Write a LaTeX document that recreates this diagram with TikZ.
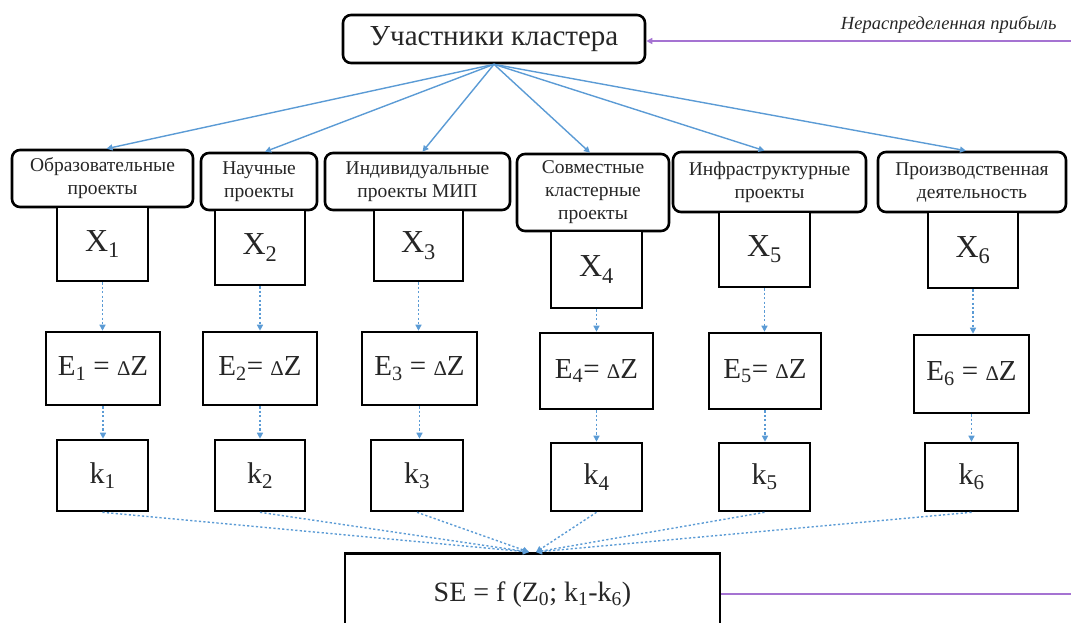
\documentclass[tikz,border=0pt]{standalone}
\usepackage{fontspec}
\setmainfont{Liberation Serif}
\usetikzlibrary{arrows.meta,calc}
\definecolor{lineblue}{HTML}{5B9BD5}
\definecolor{loopviolet}{RGB}{165,115,210}
\definecolor{txt}{HTML}{262626}
\newcommand{\dZ}{{\scalebox{0.72}{Δ}}Z}
\tikzset{
  rbox/.style={draw=black, line width=2.6pt, rounded corners=8pt, fill=white, align=center, text=txt, inner sep=2pt},
  sbox/.style={draw=black, line width=2.6pt, fill=white, align=center, text=txt, inner sep=2pt},
  cat/.style={rbox, font=\fontsize{19.5}{23}\selectfont},
  xbox/.style={sbox, font=\fontsize{32}{34}\selectfont},
  ebox/.style={sbox, font=\fontsize{29}{32}\selectfont},
  kbox/.style={sbox, font=\fontsize{30}{32}\selectfont},
  solidarrow/.style={draw=lineblue, line width=1.4pt, -{Triangle[length=6pt,width=6pt]}},
  dotarrow/.style={draw=lineblue, line width=1.4pt, dash pattern=on 2.2pt off 2.2pt, -{Triangle[length=6pt,width=6pt]}},
  loopline/.style={draw=loopviolet, line width=2pt}
}
\begin{document}
\begin{tikzpicture}[x=1pt,y=-1pt]
\useasboundingbox (0,0) rectangle (1071,622);
\clip (0,0) rectangle (1071,622);
% top node
\node[rbox, minimum width=302pt, minimum height=48pt, font=\fontsize{29}{30}\selectfont] (top) at (494,39) {Участники кластера};
\node[font=\itshape\fontsize{18.5}{20}\selectfont, text=txt, anchor=east] (lbl) at (1060,25) {Нераспределенная прибыль};
\coordinate (inR) at (1071,41);
\draw[loopline, -{Triangle[length=6pt,width=6pt]}] (inR) -- (top.east |- inR);
% category nodes
\node[cat, minimum width=181pt, minimum height=57pt] (c1) at (102.5,178.5) {Образовательные\\проекты};
\node[cat, minimum width=116pt, minimum height=57pt] (c2) at (259,181.5) {Научные\\проекты};
\node[cat, minimum width=185pt, minimum height=57pt] (c3) at (417.5,181.5) {Индивидуальные\\проекты МИП};
\node[cat, minimum width=152pt, minimum height=77pt] (c4) at (593,192.5) {Совместные\\кластерные\\проекты};
\node[cat, minimum width=193pt, minimum height=60pt] (c5) at (769.5,182) {Инфраструктурные\\проекты};
\node[cat, minimum width=188pt, minimum height=60pt] (c6) at (972,182) {Производственная\\деятельность};
% X nodes
\node[xbox, minimum width=91pt, minimum height=74pt] (x1) at (102.5,244) {X\textsubscript{1}};
\node[xbox, minimum width=90pt, minimum height=75pt] (x2) at (260,247.5) {X\textsubscript{2}};
\node[xbox, minimum width=89pt, minimum height=71pt] (x3) at (418.5,245.5) {X\textsubscript{3}};
\node[xbox, minimum width=91pt, minimum height=77pt] (x4) at (596.5,269.5) {X\textsubscript{4}};
\node[xbox, minimum width=91pt, minimum height=75pt] (x5) at (764.5,249.5) {X\textsubscript{5}};
\node[xbox, minimum width=90pt, minimum height=76pt] (x6) at (973,250) {X\textsubscript{6}};
% E nodes
\node[ebox, minimum width=114pt, minimum height=73pt] (e1) at (103,368.5) {E\textsubscript{1} = \dZ};
\node[ebox, minimum width=114pt, minimum height=73pt] (e2) at (260,368.5) {E\textsubscript{2}= \dZ};
\node[ebox, minimum width=115pt, minimum height=73pt] (e3) at (419.5,368.5) {E\textsubscript{3} = \dZ};
\node[ebox, minimum width=113pt, minimum height=76pt] (e4) at (596.5,371) {E\textsubscript{4}= \dZ};
\node[ebox, minimum width=112pt, minimum height=76pt] (e5) at (765,371) {E\textsubscript{5}= \dZ};
\node[ebox, minimum width=115pt, minimum height=78pt] (e6) at (971.5,374) {E\textsubscript{6} = \dZ};
% k nodes
\node[kbox, minimum width=91pt, minimum height=71pt] (k1) at (102.5,475.5) {k\textsubscript{1}};
\node[kbox, minimum width=90pt, minimum height=71pt] (k2) at (260,475.5) {k\textsubscript{2}};
\node[kbox, minimum width=92pt, minimum height=71pt] (k3) at (417,475.5) {k\textsubscript{3}};
\node[kbox, minimum width=91pt, minimum height=68pt] (k4) at (596.5,477) {k\textsubscript{4}};
\node[kbox, minimum width=91pt, minimum height=68pt] (k5) at (764.5,477) {k\textsubscript{5}};
\node[kbox, minimum width=93pt, minimum height=68pt] (k6) at (971.5,477) {k\textsubscript{6}};
% SE node
\node[sbox, minimum width=375pt, minimum height=82pt, anchor=north, font=\fontsize{28}{30}\selectfont] (se) at (532.5,552) {SE = f (Z\textsubscript{0}; k\textsubscript{1}-k\textsubscript{6})};
\coordinate (outR) at (1071,593);
\draw[loopline] (se.east) -- (outR |- se.east);
% arrows from top
\foreach \i/\dx in {1/4,2/6,3/5,4/-3,5/-5,6/-6}{
  \draw[solidarrow] (top.south) -- ($(c\i.north)+(\dx,0)$);
}
% dotted chains
\foreach \i in {1,...,6}{
  \draw[dotarrow] (x\i.south) -- (x\i.south |- e\i.north);
  \draw[dotarrow] (e\i.south) -- (e\i.south |- k\i.north);
}
\foreach \i in {1,2,3}{ \draw[dotarrow] (k\i.south) -- ($(se.north)+(-3.5,0)$); }
\foreach \i in {4,5,6}{ \draw[dotarrow] (k\i.south) -- ($(se.north)+(3.5,0)$); }
\end{tikzpicture}
\end{document}
